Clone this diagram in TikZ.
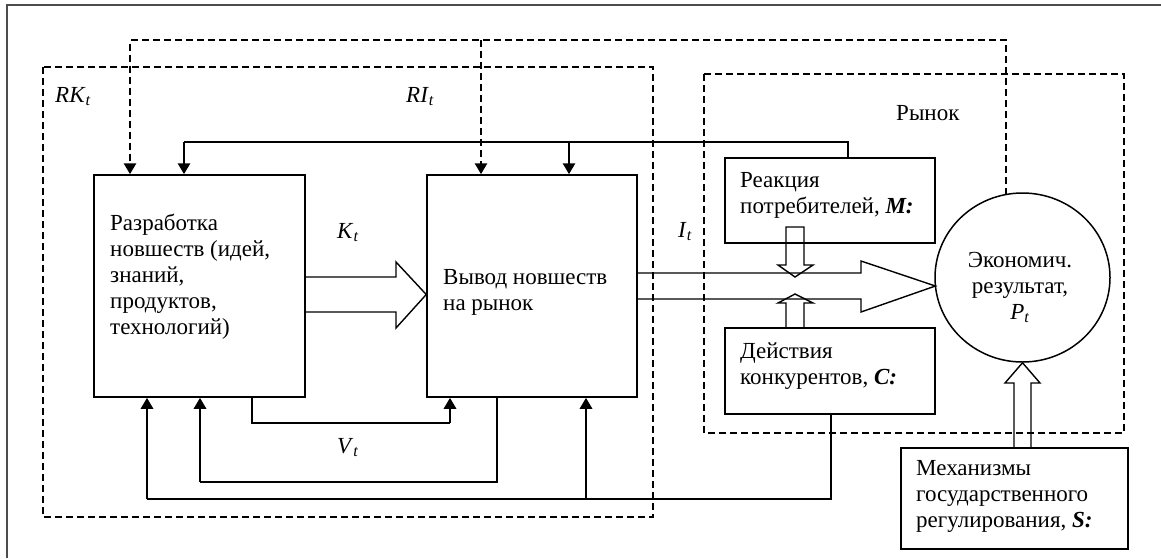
\documentclass[tikz,border=0pt]{standalone}
\usepackage{fontspec}
\setmainfont{Liberation Serif}
\usetikzlibrary{arrows.meta,shapes.geometric}
\tikzset{
  box/.style={draw, rectangle, line width=1.5pt, inner sep=0pt},
  oval/.style={draw, ellipse, line width=1.5pt, inner sep=0pt},
  txt/.style={anchor=base west, inner sep=0pt, font=\fontsize{23}{26}\selectfont},
  dashbox/.style={line width=2.8pt, dash pattern=on 7pt off 4pt},
  dashline/.style={line width=2.8pt, dash pattern=on 7pt off 4pt, -{Triangle[width=12pt,length=11pt]}},
  thinline/.style={line width=1.4pt},
  tharrow/.style={line width=2.8pt, -{Triangle[width=12pt,length=11pt]}},
  hollow/.style={line width=1.4pt, line join=miter},
  frame/.style={line width=2pt, draw=black!70}
}
\newcommand{\sub}[2]{\textit{#1}\textsubscript{\textit{#2}}}
\begin{document}
\begin{tikzpicture}[x=1pt,y=-1pt]
\useasboundingbox (0,0) rectangle (1161,558);
% frame
\draw[frame] (7,558) -- (7,5) -- (1161,5);
% dashed regions
\draw[dashbox] (43,67) rectangle (653,517);
\draw[dashbox] (704,74) rectangle (1124,433);
% boxes
\node[box, minimum width=211pt, minimum height=222pt] (b1) at (199.5,286) {};
\node[box, minimum width=210pt, minimum height=222pt] (b2) at (532,286) {};
\node[box, minimum width=210pt, minimum height=85pt] (r) at (830,200.5) {};
\node[box, minimum width=210pt, minimum height=86pt] (c) at (830,371) {};
\node[box, minimum width=227pt, minimum height=101pt] (s) at (1014.5,498.5) {};
\node[oval, minimum width=175pt, minimum height=169pt] (e) at (1022.5,277.5) {};
\coordinate (ctop) at (1006,194.5);
\coordinate (tip2) at (935.4,286);
% texts
\node[txt] (t1) at (110,230) {\vtop{\hbox{Разработка}\hbox{новшеств (идей,}\hbox{знаний,}\hbox{продуктов,}\hbox{технологий)}}};
\node[txt] (t2) at (443,284) {\vtop{\hbox{Вывод новшеств}\hbox{на рынок}}};
\node[txt] (t3) at (740,187) {\vtop{\hbox{Реакция}\hbox{потребителей, \textbf{\textit{M:}}}}};
\node[txt] (t4) at (740,358) {\vtop{\hbox{Действия}\hbox{конкурентов, \textbf{\textit{C:}}}}};
\node[txt] (t5) at (916,475) {\vtop{\hbox{Механизмы}\hbox{государственного}\hbox{регулирования, \textbf{\textit{S:}}}}};
\node[txt, anchor=base] (t6) at (1020,267) {\vtop{\halign{\hfil#\hfil\cr Экономич.\cr результат,\cr \sub{P}{t}\cr}}};
\node[txt] (lrk) at (55,102) {\sub{RK}{t}};
\node[txt] (lri) at (406,102) {\sub{RI}{t}};
\node[txt] (lmk) at (896,120) {Рынок};
\node[txt] (lk) at (337,238) {\sub{K}{t}};
\node[txt] (li) at (678,237) {\sub{I}{t}};
\node[txt] (lv) at (337,453) {\sub{V}{t}};
% dashed feedback
\draw[dashline] (ctop) -- (1006,40) -- (130,40) -- (b1.north -| 130,0);
\draw[dashline] (481,40) -- (b2.north -| 481,0);
% solid top feedback
\draw[thinline] (r.north -| 848,0) -- (848,142) -- (184,142);
\draw[tharrow] (184,142) -- (b1.north -| 184,0);
\draw[tharrow] (569,142) -- (b2.north -| 569,0);
% bottom loops
\draw[thinline] (b1.south -| 252,0) -- (252,423) -- (450,423);
\draw[tharrow] (450,423) -- (b2.south -| 450,0);
\draw[thinline] (b2.south -| 497,0) -- (497,482) -- (200,482);
\draw[tharrow] (200,482) -- (b1.south -| 200,0);
\draw[thinline] (c.south -| 831,0) -- (831,499) -- (147,499);
\draw[tharrow] (147,499) -- (b1.south -| 147,0);
\draw[tharrow] (586,499) -- (b2.south -| 586,0);
% hollow arrows
\draw[hollow] (b1.east |- 0,277) -- (396,277) -- (396,262) -- (b2.west |- 0,294.5) -- (396,328) -- (396,312) -- (b1.east |- 0,312);
\draw[hollow] (b2.east |- 0,273) -- (861,273) -- (861,261) -- (tip2) -- (861,312) -- (861,299) -- (b2.east |- 0,299);
\draw[hollow] (786,227) -- (786,265) -- (778,265) -- (795,277) -- (813,265) -- (804,265) -- (804,227) -- cycle;
\draw[hollow] (c.north -| 786,0) -- (786,303) -- (778,303) -- (795,294) -- (813,303) -- (804,303) -- (c.north -| 804,0);
\draw[hollow] (s.north -| 1014,0) -- (1014,383) -- (1005,383) -- (e.south) -- (1040,383) -- (1031,383) -- (s.north -| 1031,0);
\end{tikzpicture}
\end{document}
